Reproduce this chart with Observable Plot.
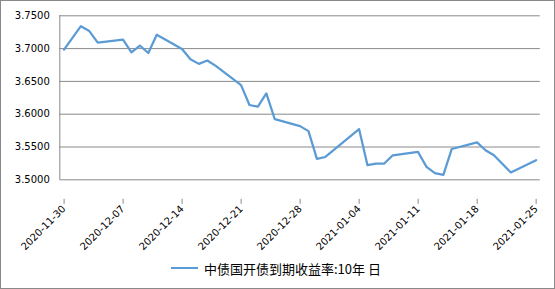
<!DOCTYPE html>
<html>
<head>
<meta charset="utf-8">
<script src="https://cdn.jsdelivr.net/npm/d3@7"></script>
<script src="https://cdn.jsdelivr.net/npm/@observablehq/plot@0.6"></script>
<style>
  html, body { margin: 0; padding: 0; background: #fff; }
  #wrap { position: relative; width: 555px; height: 289px; overflow: hidden; }
  #border { position: absolute; left: 0; top: 0; width: 555px; height: 289px; box-sizing: border-box; border: 1px solid #898989; pointer-events: none; }
  #legend { position: absolute; left: 171px; top: 259px; height: 18px; display: flex; align-items: center; font-family: "Noto Sans CJK SC", sans-serif; font-size: 13px; color: #000; white-space: nowrap; }
  #legend .sw { width: 27px; height: 2px; background: #5B9BD5; margin-right: 6px; }
</style>
</head>
<body>
<div id="wrap">
  <div id="chart"></div>
  <div id="legend"><span class="sw"></span><span id="legtext"></span></div>
  <div id="border"></div>
</div>
<script>
const seriesName = "中债国开债到期收益率:10年 日";
const dates = ["2020-11-30","2020-12-02","2020-12-03","2020-12-04","2020-12-07","2020-12-08","2020-12-09","2020-12-10","2020-12-11","2020-12-14","2020-12-15","2020-12-16","2020-12-17","2020-12-18","2020-12-21","2020-12-22","2020-12-23","2020-12-24","2020-12-25","2020-12-28","2020-12-29","2020-12-30","2020-12-31","2021-01-04","2021-01-05","2021-01-06","2021-01-07","2021-01-08","2021-01-11","2021-01-12","2021-01-13","2021-01-14","2021-01-15","2021-01-18","2021-01-19","2021-01-20","2021-01-22","2021-01-25"];
const values = [3.6985,3.7342,3.7267,3.7090,3.7136,3.6944,3.7045,3.6933,3.7212,3.6995,3.6838,3.6767,3.6818,3.6736,3.6444,3.6140,3.6115,3.6318,3.5924,3.5818,3.5742,3.5318,3.5348,3.5773,3.5223,3.5248,3.5248,3.5374,3.5424,3.5197,3.5102,3.5076,3.5470,3.5571,3.5450,3.5374,3.5112,3.5298];
const xTicks = ["2020-11-30","2020-12-07","2020-12-14","2020-12-21","2020-12-28","2021-01-04","2021-01-11","2021-01-18","2021-01-25"];
const yTicks = [3.50, 3.55, 3.60, 3.65, 3.70, 3.75];
const xDomain = ["2020-11-30", "2021-01-26"];

const data = dates.map((d, i) => ({date: new Date(d + "T12:00:00Z"), value: values[i]}));
const tickDates = xTicks.map(d => new Date(d + "T00:00:00Z"));
const grid = "#898989";

const chart = Plot.plot({
  width: 555,
  height: 289,
  marginLeft: 59.3,
  marginRight: 15.2,
  marginTop: 15.3,
  marginBottom: 109.7,
  style: {fontFamily: "'DejaVu Sans', sans-serif", fontSize: "10px", color: "#000", background: "transparent"},
  x: {type: "utc", domain: xDomain.map(d => new Date(d + "T00:00:00Z")), label: null},
  y: {domain: [3.5, 3.75], label: null},
  marks: [
    Plot.gridY(yTicks.slice(1), {stroke: grid, strokeOpacity: 1, strokeWidth: 1}),
    Plot.ruleY([3.5], {stroke: grid, strokeWidth: 1}),
    Plot.ruleX([tickDates[0]], {stroke: grid, strokeWidth: 1}),
    Plot.axisY({ticks: yTicks, tickFormat: d3.format(".4f"), tickSize: 0, tickPadding: 10, fill: "#000", fontSize: 10, label: null}),
    Plot.axisX({ticks: tickDates, tickFormat: d3.utcFormat("%Y-%m-%d"), tickRotate: -45, tickSize: 5, tickPadding: 3, stroke: grid, fill: "#000", fontSize: 10, dx: 4.3, dy: 19.5, label: null}),
    Plot.lineY(data, {x: "date", y: "value", stroke: "#5B9BD5", strokeWidth: 2.25, strokeLinejoin: "round"})
  ]
});
document.getElementById("chart").appendChild(chart);
document.getElementById("legtext").textContent = seriesName;
</script>
</body>
</html>
